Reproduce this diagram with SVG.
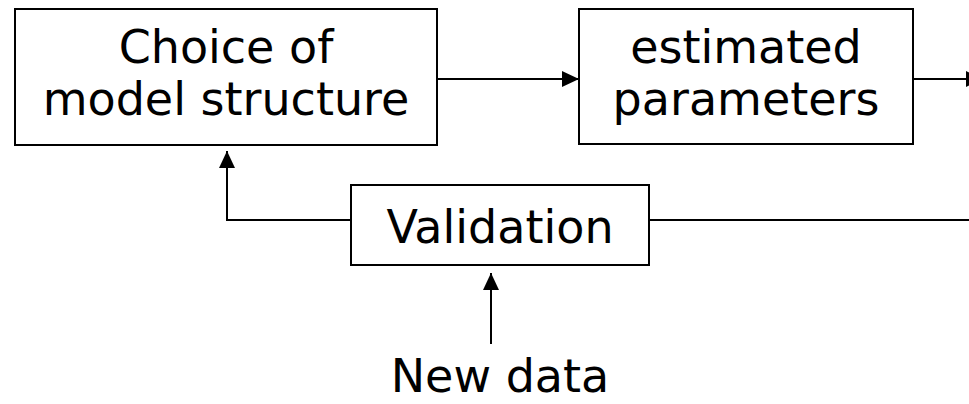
<svg xmlns="http://www.w3.org/2000/svg" width="969" height="404" viewBox="0 0 969 404">
  <defs>
    <style>
      .box { fill: #ffffff; stroke: #000000; stroke-width: 2; }
      .wire { fill: none; stroke: #000000; stroke-width: 2; }
      .label { font-family: "DejaVu Sans", Verdana, sans-serif; font-size: 46px; fill: #000000; text-anchor: middle; }
    </style>
    <marker id="arrow" markerUnits="userSpaceOnUse" markerWidth="18" markerHeight="18" refX="17" refY="8" orient="auto">
      <path d="M0,0 L17,8 L0,16 Z" fill="#000000"/>
    </marker>
  </defs>

  <rect width="969" height="404" fill="#ffffff"/>

  <g id="connectors">
    <path class="wire" d="M437,79 H579" marker-end="url(#arrow)"/>
    <path class="wire" d="M913,79 H983" marker-end="url(#arrow)"/>
    <path class="wire" d="M649,220 H975"/>
    <path class="wire" d="M351,220 H227 V151" marker-end="url(#arrow)"/>
    <path class="wire" d="M491,344 V273" marker-end="url(#arrow)"/>
  </g>

  <g id="model-structure">
    <rect class="box" x="15" y="9" width="422" height="136"/>
    <text class="label" x="226" y="63">Choice of</text>
    <text class="label" x="226" y="115">model structure</text>
  </g>

  <g id="estimated-parameters">
    <rect class="box" x="579" y="9" width="334" height="135"/>
    <text class="label" x="746" y="63">estimated</text>
    <text class="label" x="746" y="115">parameters</text>
  </g>

  <g id="validation">
    <rect class="box" x="351" y="185" width="298" height="80"/>
    <text class="label" x="500" y="243">Validation</text>
  </g>

  <g id="new-data">
    <text class="label" x="500" y="392">New data</text>
  </g>
</svg>
